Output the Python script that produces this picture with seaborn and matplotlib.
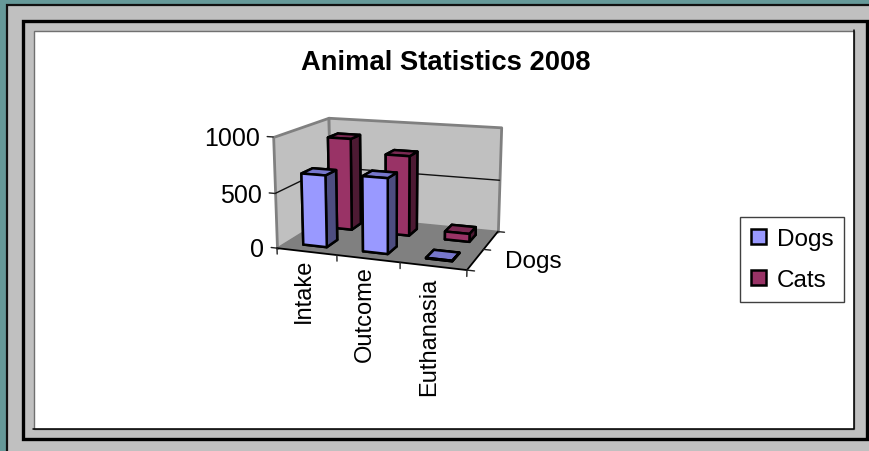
import numpy as np
import matplotlib
matplotlib.use("Agg")
import matplotlib.pyplot as plt
from matplotlib.patches import Rectangle, Patch
from mpl_toolkits.mplot3d import proj3d
from mpl_toolkits.mplot3d.art3d import Poly3DCollection
import seaborn as sns

title = "Animal Statistics 2008"
categories = ["Intake", "Outcome", "Euthanasia"]
series_names = ["Dogs", "Cats"]
dogs = [655, 675, 5]
cats = [880, 755, 75]
value_ticks = [0, 500, 1000]

W, H = 869, 452
sns.set_theme(style="white")
plt.rcParams['font.family'] = ['Liberation Sans', 'DejaVu Sans']
pal = sns.color_palette(["#9999FF", "#993366"])
side = sns.color_palette(["#4D4D80", "#4D1A33"])
top = sns.color_palette(["#7777CC", "#7A2952"])

fig = plt.figure(figsize=(W / 100, H / 100), dpi=100, facecolor="#669999")

# frame
bg = fig.add_axes([0, 0, 1, 1], zorder=-5)
bg.set_xlim(0, W); bg.set_ylim(H, 0); bg.axis("off")
bg.set_xticks([]); bg.set_yticks([])
bg.add_patch(Rectangle((7, 6), W, H, fc="#C0C0C0", ec="#111111", lw=1.6))
bg.add_patch(Rectangle((22.5, 22), 844.5, 417.5, fc="#C0C0C0", ec="black", lw=2.4))
bg.add_patch(Rectangle((33.5, 31.5), 820, 398, fc="white", ec="#707070", lw=1.0))
bg.plot([33, 853.5, 853.5], [429.5, 429.5, 31], color="black", lw=1.1)

# 3-D chart
ax = fig.add_axes([263.35 / W, (H - 315.41) / H, 248.82 / W, 248.82 / H], projection="3d",
                  computed_zorder=False)
ax.patch.set_alpha(0)
ax.set_xticks([]); ax.set_yticks([]); ax.set_zticks([])
ax.set_axis_off()
ax.view_init(13.4628, -70.2956)
ax.set_proj_type("persp", focal_length=0.60369)
ax.set_box_aspect((3.46843, 2.33163, 2.0))

nx, ny, zmax = len(categories), len(series_names), value_ticks[-1]


def poly(verts, z, **kw):
    ax.add_collection3d(Poly3DCollection([verts], zorder=z, **kw))


wall = dict(facecolor="#C0C0C0", edgecolor="#808080", linewidth=2)
poly([(0, 0, 0), (0, ny, 0), (0, ny, zmax), (0, 0, zmax)], 1, **wall)
poly([(0, ny, 0), (nx, ny, 0), (nx, ny, zmax), (0, ny, zmax)], 1, **wall)
poly([(0, 0, 0), (nx, 0, 0), (nx, ny, 0), (0, ny, 0)], 2, facecolor="#808080", edgecolor="none")

# gridlines
for v in value_ticks[1:-1]:
    ax.plot([0, 0, nx], [0, ny, ny], [v, v, v], color="#111111", lw=1, zorder=3)
# floor edges
ax.plot([0, nx, nx], [0, 0, ny], [0, 0, 0], color="black", lw=1.3, zorder=4)

# ticks
for v in value_ticks:
    ax.plot([-0.1, 0], [0, 0], [v, v], color="#222222", lw=1, zorder=4)
for i in range(nx + 1):
    ax.plot([i, i], [0, 0], [0, -55], color="#222222", lw=1, zorder=4)
for j in range(ny + 1):
    ax.plot([nx, nx + 0.11], [j, j], [0, 0], color="#222222", lw=1, zorder=4)

# bars: cats behind dogs
w = 0.4
for j, vals in reversed(list(enumerate([dogs, cats]))):
    for i, v in enumerate(vals):
        f, t, s = pal[j], top[j], side[j]
        ax.bar3d(i + 0.5 - w / 2, j + 0.5 - w / 2, 0, w, w, v,
                 color=[f, t, f, f, s, s], shade=False, edgecolor="black",
                 linewidth=1.8, zorder=10 + (1 - j) * 5 + i)

ax.set_xlim(0, nx); ax.set_ylim(0, ny); ax.set_zlim(0, zmax)


def label(x, y, z, s, **kw):
    """Place upright text at the projected position of a 3-D point."""
    px, py, _ = proj3d.proj_transform(x, y, z, ax.get_proj())
    ax.text2D(px, py, s, transform=ax.transData, color="black", zorder=20, **kw)


for v in value_ticks:
    label(-0.22, 0, v - 20, str(v), ha="right", va="center", fontsize=18)
for i, (c, drop) in enumerate(zip(categories, [-63, -65, -92])):
    label(i + 0.45, 0, drop, c, rotation=90, ha="center", va="top", fontsize=17)
label(nx + 0.44, 0.5, 18, series_names[0], ha="left", va="center", fontsize=17.5)

fig.text(446 / W, 1 - 63 / H, title, ha="center", va="center", fontsize=19.7, fontweight="bold",
         color="black")

handles = [Patch(facecolor=pal[k], edgecolor="black", linewidth=1.8, label=series_names[k])
           for k in range(ny)]
leg = fig.legend(handles=handles, loc="upper left", bbox_to_anchor=(740 / W, 1 - 218 / H),
                 fontsize=17.5, labelcolor="black", frameon=True, fancybox=False, framealpha=1,
                 edgecolor="#404040", facecolor="white", handlelength=0.64, handleheight=0.58,
                 handletextpad=0.42, labelspacing=0.78, borderpad=0.45, borderaxespad=0)
leg.get_frame().set_linewidth(1)

fig.savefig("out.png", dpi=100, facecolor=fig.get_facecolor())
